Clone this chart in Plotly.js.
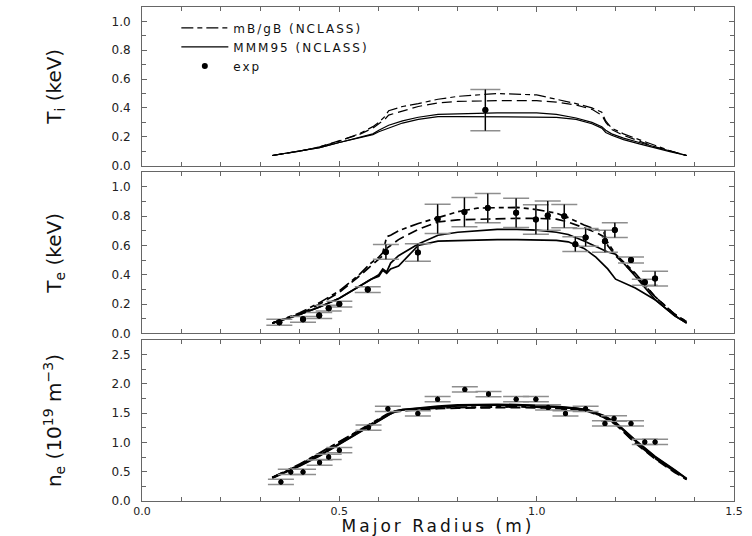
<!DOCTYPE html>
<html>
<head>
<meta charset="utf-8">
<script src="https://cdn.plot.ly/plotly-3.0.1.min.js"></script>
<style>
html,body{margin:0;padding:0;background:#fff;}
#chart{width:752px;height:536px;}
.legendtext{letter-spacing:2px;}
.x3title{letter-spacing:3px;}
</style>
</head>
<body>
<div id="chart"></div>
<script>
// ---- Ion temperature panel ----
const tiR    = [0.33,0.40,0.45,0.50,0.55,0.585,0.60,0.615,0.625,0.66,0.70,0.75,0.80,0.90,1.00,1.05,1.10,1.14,1.165,1.175,1.19,1.22,1.26,1.30,1.34,1.38];
const tiMB1  = [0.07,0.10,0.13,0.17,0.22,0.27,0.30,0.34,0.38,0.41,0.43,0.46,0.48,0.50,0.49,0.46,0.43,0.40,0.37,0.31,0.26,0.22,0.18,0.14,0.10,0.07];
const tiMB2  = [0.07,0.10,0.13,0.17,0.215,0.26,0.29,0.32,0.35,0.38,0.41,0.435,0.445,0.45,0.45,0.44,0.42,0.39,0.35,0.30,0.25,0.21,0.17,0.13,0.10,0.07];
const tiMMM1 = [0.07,0.10,0.125,0.16,0.195,0.22,0.245,0.265,0.28,0.31,0.335,0.355,0.36,0.365,0.365,0.355,0.33,0.30,0.27,0.245,0.22,0.19,0.16,0.13,0.10,0.07];
const tiMMM2 = [0.07,0.10,0.125,0.16,0.19,0.215,0.235,0.25,0.26,0.295,0.32,0.34,0.34,0.34,0.34,0.335,0.32,0.29,0.26,0.23,0.21,0.18,0.15,0.12,0.095,0.07];
const tiExpR = [0.87];
const tiExp  = [0.385];
const tiErr  = [0.143];

// ---- Electron temperature panel ----
const teR    = [0.33,0.40,0.45,0.50,0.55,0.58,0.60,0.61,0.62,0.63,0.65,0.70,0.75,0.80,0.85,0.90,0.95,1.00,1.05,1.08,1.12,1.15,1.17,1.18,1.20,1.25,1.30,1.35,1.38];
const teMB1  = [0.07,0.14,0.21,0.29,0.40,0.48,0.52,0.55,0.66,0.67,0.70,0.75,0.79,0.83,0.855,0.86,0.86,0.845,0.82,0.79,0.74,0.71,0.69,0.62,0.54,0.41,0.25,0.13,0.08];
const teMB2  = [0.07,0.13,0.20,0.28,0.39,0.46,0.50,0.53,0.58,0.60,0.64,0.71,0.76,0.775,0.78,0.78,0.785,0.785,0.78,0.76,0.72,0.69,0.66,0.60,0.53,0.40,0.25,0.13,0.08];
const teMMM1 = [0.07,0.13,0.18,0.24,0.32,0.37,0.40,0.44,0.42,0.48,0.53,0.61,0.67,0.69,0.70,0.71,0.71,0.705,0.69,0.675,0.63,0.59,0.565,0.555,0.54,0.39,0.23,0.12,0.07];
const teMMM2 = [0.07,0.13,0.18,0.24,0.32,0.37,0.39,0.43,0.41,0.44,0.46,0.60,0.63,0.635,0.64,0.64,0.64,0.64,0.635,0.625,0.58,0.52,0.47,0.44,0.37,0.31,0.23,0.12,0.07];
const teExpR = [0.348,0.408,0.449,0.473,0.50,0.572,0.618,0.699,0.749,0.817,0.876,0.948,0.998,1.028,1.07,1.098,1.124,1.173,1.198,1.239,1.274,1.30];
const teExp  = [0.076,0.096,0.122,0.172,0.20,0.299,0.556,0.552,0.781,0.828,0.855,0.823,0.777,0.804,0.80,0.609,0.655,0.628,0.705,0.501,0.349,0.374];
const teErr  = [0.02,0.02,0.02,0.02,0.02,0.02,0.05,0.06,0.10,0.10,0.10,0.10,0.10,0.10,0.08,0.05,0.06,0.075,0.05,0.02,0.02,0.05];

// ---- Electron density panel ----
const neR    = [0.33,0.40,0.45,0.50,0.55,0.58,0.60,0.62,0.64,0.66,0.70,0.75,0.80,0.85,0.90,0.95,1.00,1.05,1.10,1.13,1.17,1.20,1.25,1.30,1.35,1.38];
const neMB1  = [0.40,0.63,0.82,1.01,1.20,1.31,1.40,1.48,1.53,1.55,1.57,1.59,1.60,1.605,1.61,1.61,1.605,1.59,1.565,1.54,1.44,1.32,1.00,0.73,0.50,0.37];
const neMB2  = [0.40,0.62,0.81,1.00,1.19,1.30,1.39,1.47,1.52,1.545,1.565,1.58,1.59,1.595,1.60,1.60,1.595,1.585,1.56,1.535,1.43,1.31,0.99,0.72,0.49,0.37];
const neMMM1 = [0.40,0.61,0.78,0.98,1.17,1.29,1.38,1.46,1.535,1.56,1.58,1.61,1.63,1.64,1.645,1.64,1.63,1.61,1.58,1.55,1.45,1.33,1.03,0.75,0.525,0.38];
const neMMM2 = [0.39,0.60,0.77,0.97,1.16,1.28,1.37,1.45,1.53,1.56,1.59,1.62,1.64,1.65,1.65,1.645,1.635,1.615,1.585,1.555,1.46,1.34,1.04,0.76,0.53,0.38];
const neExpR = [0.352,0.377,0.408,0.45,0.473,0.50,0.574,0.623,0.699,0.749,0.818,0.878,0.948,0.998,1.029,1.073,1.124,1.173,1.196,1.239,1.274,1.30];
const neExp  = [0.325,0.497,0.497,0.657,0.754,0.868,1.256,1.576,1.496,1.741,1.907,1.827,1.741,1.741,1.599,1.496,1.576,1.325,1.41,1.325,1.01,1.01];
const neErr  = [0.045,0.045,0.045,0.045,0.045,0.045,0.045,0.045,0.045,0.045,0.045,0.045,0.045,0.045,0.045,0.045,0.045,0.045,0.045,0.045,0.045,0.045];

// ---- labels ----
const legendNames = ['mB/gB (NCLASS)','MMM95 (NCLASS)','exp'];
const xTicks = [0,0.5,1.0,1.5];
const xTickText = ['0.0','0.5','1.0','1.5'];

const DASHDOT = '12px,4px,5px,4px';
const LONGDASH = '10px,5px';

function line(x, y, xa, ya, dash, w, name, showlegend, rank) {
  return {x:x, y:y, xaxis:xa, yaxis:ya, type:'scatter', mode:'lines',
    line:{color:'#000', width:w, dash:dash}, name:name||'', showlegend:!!showlegend,
    legendrank:rank||1000, hoverinfo:'skip'};
}
function errs(x, y, e, xa, ya, ms, capw, name, showlegend) {
  return [
    {x:x, y:y, xaxis:xa, yaxis:ya, type:'scatter', mode:'markers', showlegend:false,
     marker:{color:'#000', size:ms}, hoverinfo:'skip',
     error_y:{type:'data', array:e, visible:true, color:'#8e8e8e', thickness:1.5, width:capw}},
    {x:x, y:y, xaxis:xa, yaxis:ya, type:'scatter', mode:'markers', name:name||'', showlegend:!!showlegend,
     legendrank:3, marker:{color:'#000', size:ms}, hoverinfo:'skip',
     error_y:{type:'data', array:e, visible:true, color:'#000', thickness:1.3, width:0}}
  ];
}

const traces = [
  line(tiR, tiMB1, 'x', 'y', DASHDOT, 1.2, legendNames[0], true, 1),
  line(tiR, tiMB2, 'x', 'y', LONGDASH, 1.2),
  line(tiR, tiMMM1, 'x', 'y', 'solid', 1.2, legendNames[1], true, 2),
  line(tiR, tiMMM2, 'x', 'y', 'solid', 1.2),
  line(teR, teMB1, 'x2', 'y2', DASHDOT, 1.7),
  line(teR, teMB2, 'x2', 'y2', LONGDASH, 1.7),
  line(teR, teMMM1, 'x2', 'y2', 'solid', 1.7),
  line(teR, teMMM2, 'x2', 'y2', 'solid', 1.7),
  line(neR, neMB1, 'x3', 'y3', DASHDOT, 2),
  line(neR, neMB2, 'x3', 'y3', LONGDASH, 2),
  line(neR, neMMM1, 'x3', 'y3', 'solid', 2),
  line(neR, neMMM2, 'x3', 'y3', 'solid', 2)
].concat(
  errs(tiExpR, tiExp, tiErr, 'x', 'y', 6, 15, legendNames[2], true),
  errs(teExpR, teExp, teErr, 'x2', 'y2', 6, 13),
  errs(neExpR, neExp, neErr, 'x3', 'y3', 5, 13)
);

const tickFont = {family:'DejaVu Sans, Arial, sans-serif', size:12, color:'#222'};
const axisColor = '#666';

function xAxis(anchor, labels) {
  const a = {anchor:anchor, domain:[0,1], range:[0,1.5], showgrid:false, zeroline:false,
    showline:true, linecolor:axisColor, linewidth:1, mirror:'ticks',
    ticks:'inside', ticklen:5, tickwidth:1, tickcolor:axisColor,
    tickvals:xTicks, ticktext:xTickText, showticklabels:labels,
    tickfont:{family:'DejaVu Sans, Arial, sans-serif', size:11, color:'#222'},
    minor:{dtick:0.1, tick0:0, ticks:'inside', ticklen:4, tickwidth:1, tickcolor:axisColor}};
  if (anchor !== 'y3') a.matches = 'x3';
  return a;
}
function yAxis(anchor, domain, range, dtick, mdtick, title, standoff) {
  return {anchor:anchor, domain:domain, range:range, showgrid:false, zeroline:false,
    showline:true, linecolor:axisColor, linewidth:1, mirror:'ticks',
    ticks:'inside', ticklen:5, tickwidth:1, tickcolor:axisColor,
    dtick:dtick, tick0:0, tickformat:'.1f', tickfont:tickFont, ticklabelstandoff:8,
    minor:{dtick:mdtick, tick0:0, ticks:'inside', ticklen:4, tickwidth:1, tickcolor:axisColor},
    title:{text:title, standoff:standoff, font:{family:'DejaVu Sans, Arial, sans-serif', size:20, color:'#111'}}};
}

const xa3 = xAxis('y3', true);
xa3.title = {text:'Major Radius (m)', standoff:0, font:{family:'DejaVu Sans, Arial, sans-serif', size:17, color:'#111'}};

const layout = {
  width:752, height:536,
  margin:{l:142, r:18, t:7, b:35},
  paper_bgcolor:'#fff', plot_bgcolor:'#fff',
  font:{family:'DejaVu Sans, Arial, sans-serif', color:'#111'},
  showlegend:true,
  legend:{x:0.058, y:0.987, xanchor:'left', yanchor:'top', bgcolor:'rgba(0,0,0,0)',
    borderwidth:0, itemwidth:47, tracegroupgap:0, traceorder:'normal',
    font:{family:'DejaVu Sans, Arial, sans-serif', size:12, color:'#111'}},
  xaxis: xAxis('y', false),
  xaxis2: xAxis('y2', false),
  xaxis3: xa3,
  yaxis: yAxis('x', [0.679,1], [0,1.1], 0.2, 0.1, 'T<sub>i</sub> (keV)', 44),
  yaxis2: yAxis('x2', [0.3393,0.6656], [0,1.1], 0.2, 0.1, 'T<sub>e</sub> (keV)', 44),
  yaxis3: yAxis('x3', [0,0.3257], [0,2.75], 0.5, 0.25, 'n<sub>e</sub> (10<sup>19</sup> m<sup>−3</sup>)', 44)
};

Plotly.newPlot('chart', traces, layout, {displayModeBar:false, staticPlot:true});
</script>
</body>
</html>
